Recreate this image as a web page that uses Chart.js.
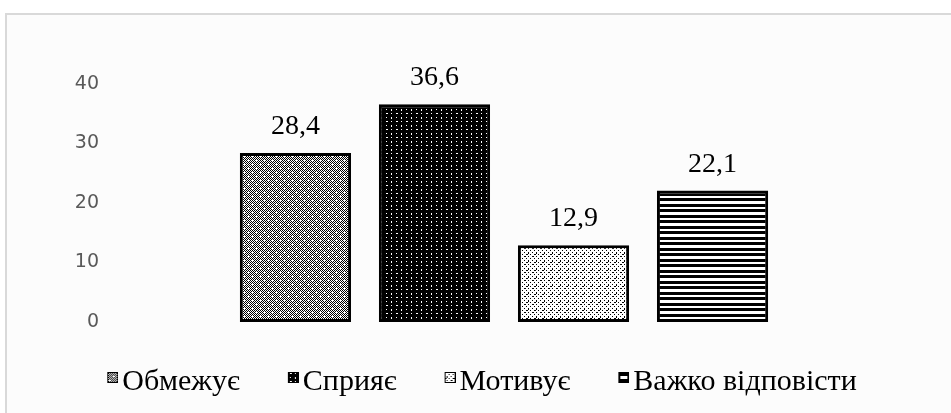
<!DOCTYPE html>
<html>
<head>
<meta charset="utf-8">
<script src="https://cdn.jsdelivr.net/npm/chart.js@4.4.1/dist/chart.umd.min.js"></script>
<style>
  html, body { margin:0; padding:0; background:#ffffff; overflow:hidden; }
  #frame { position:absolute; left:5px; top:13px; width:980px; height:440px;
           border-left:2px solid #d9d9d9; border-top:2px solid #d9d9d9; background:#fcfcfc; }
  #c { position:absolute; left:0; top:0; }
</style>
</head>
<body>
<div id="frame"></div>
<canvas id="c" width="951" height="413"></canvas>
<script>
// ---- data ----
const categories = [''];
const seriesLabels = ['Обмежує', 'Сприяє', 'Мотивує', 'Важко відповісти'];
const seriesValues = [28.4, 36.6, 12.9, 22.1];
const yTickValues = [0, 10, 20, 30, 40];

// ---- pattern tiles ----
function makeTile(w, h, bg, fg, pixels) {
  const cv = document.createElement('canvas');
  cv.width = w; cv.height = h;
  const g = cv.getContext('2d');
  g.fillStyle = bg; g.fillRect(0, 0, w, h);
  g.fillStyle = fg;
  pixels.forEach(p => g.fillRect(p[0], p[1], p[2] || 1, p[3] || 1));
  return cv;
}
const p1px = [];
for (let y = 0; y < 8; y++) for (let x = 0; x < 8; x++) {
  if ((x + y) % 2 === 0 && !((x === 0 && y === 0) || (x === 4 && y === 4))) p1px.push([x, y]);
}
const tiles = [
  makeTile(8, 8, '#ffffff', '#000000', p1px),
  makeTile(10, 8, '#000000', '#ffffff', [[1,1],[6,1,2,1],[1,5,1,2],[6,5]]),
  makeTile(8, 8, '#ffffff', '#000000', [[0,0],[4,0,2,1],[2,2],[6,2],[0,4,1,2],[4,4],[2,6],[6,6,2,1]]),
  makeTile(4, 11, '#ffffff', '#000000', [[0,0,4,3],[0,6,4,3]])
];
const ctx = document.getElementById('c').getContext('2d');
const patterns = tiles.map(t => ctx.createPattern(t, 'repeat'));

// legend swatch images (swatch sits just before the text)
const LEG_FONT = 30;
const LEG_BOX = 3;
function makeSwatch(tile, i) {
  const half = LEG_FONT / 2;
  const cv = document.createElement('canvas');
  cv.width = LEG_BOX + 2 * (half - 4); cv.height = 20;
  const g = cv.getContext('2d');
  const s = 11;
  const x0 = cv.width - s;
  if (i === 3) {
    g.fillStyle = '#000'; g.fillRect(x0, 0, s, s);
    g.fillStyle = '#fff'; g.fillRect(x0 + 2, 4, s - 4, 3);
  } else {
    g.fillStyle = g.createPattern(tile, 'repeat');
    g.fillRect(x0, 0, s, s);
    g.strokeStyle = '#000'; g.lineWidth = 1;
    g.strokeRect(x0 + 0.5, 0.5, s - 1, s - 1);
  }
  return cv;
}
const swatches = tiles.map(makeSwatch);

const datasets = seriesLabels.map((lab, i) => ({
  label: lab,
  data: [seriesValues[i]],
  backgroundColor: patterns[i],
  borderColor: '#000000',
  borderWidth: 3,
  borderSkipped: false,
  barPercentage: 0.8,
  categoryPercentage: 0.704
}));

const valueLabels = {
  id: 'valueLabels',
  afterDatasetsDraw(chart) {
    const c = chart.ctx;
    c.save();
    c.font = '28px "Liberation Serif"';
    c.fillStyle = '#000000';
    c.textAlign = 'center';
    c.textBaseline = 'alphabetic';
    chart.data.datasets.forEach((ds, i) => {
      const el = chart.getDatasetMeta(i).data[0];
      c.fillText(String(ds.data[0]).replace('.', ','), el.x, el.y - 19);
    });
    c.restore();
  }
};

new Chart(ctx, {
  type: 'bar',
  data: { labels: categories, datasets },
  options: {
    responsive: false,
    animation: false,
    devicePixelRatio: 1,
    layout: { padding: { top: 84, left: 10, right: 0, bottom: 6 } },
    plugins: {
      tooltip: { enabled: false },
      legend: {
        display: true,
        position: 'bottom',
        labels: {
          font: { family: '"Liberation Serif"', size: LEG_FONT },
          color: '#000000',
          usePointStyle: true,
          pointStyleWidth: LEG_BOX,
          boxHeight: 10,
          padding: 45,
          generateLabels(chart) {
            const items = Chart.defaults.plugins.legend.labels.generateLabels(chart);
            items.forEach((it, i) => { it.pointStyle = swatches[i]; it.lineWidth = 1; });
            return items;
          }
        }
      }
    },
    scales: {
      x: { display: false },
      y: {
        min: 0, max: 40,
        afterBuildTicks(scale) { scale.ticks = yTickValues.map(v => ({ value: v })); },
        afterFit(scale) { scale.width = 99; },
        grid: { display: false, drawTicks: false },
        border: { display: false },
        ticks: {
          padding: 10,
          color: '#595959',
          font: { family: '"DejaVu Sans"', size: 19 }
        }
      },
      yRightSpace: {
        position: 'right',
        display: true,
        min: 0, max: 40,
        afterFit(scale) { scale.width = 52; },
        grid: { display: false, drawTicks: false },
        border: { display: false },
        ticks: { display: false }
      }
    }
  },
  plugins: [valueLabels]
});
</script>
</body>
</html>
